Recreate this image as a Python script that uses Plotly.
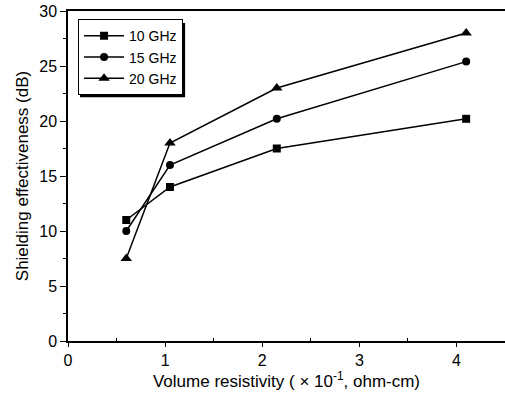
import plotly.graph_objects as go

x_vals = [0.6, 1.05, 2.15, 4.1]
se_10 = [11.0, 14.0, 17.5, 20.2]
se_15 = [10.0, 16.0, 20.2, 25.4]
se_20 = [7.5, 18.0, 23.0, 28.0]
series_names = ["10 GHz", "15 GHz", "20 GHz"]
symbols = ["square", "circle", "triangle-up"]
sizes = [8, 8, 10]

fig = go.Figure()
for name, ys, sym, sz in zip(series_names, [se_10, se_15, se_20], symbols, sizes):
    fig.add_trace(go.Scatter(x=x_vals, y=ys, mode="lines+markers", name=name,
                             line=dict(color="black", width=1.5),
                             marker=dict(symbol=sym, size=sz, color="black")))

font = "Liberation Sans, Arial, Helvetica, sans-serif"
fig.update_layout(
    width=505, height=403,
    margin=dict(l=68, r=0, t=11, b=62),
    paper_bgcolor="white", plot_bgcolor="white",
    font=dict(family=font, color="black", size=16),
    showlegend=True,
    legend=dict(x=0.023, y=0.975, xanchor="left", yanchor="top",
                bgcolor="white", bordercolor="black", borderwidth=1,
                font=dict(size=14, family=font), tracegroupgap=0,
                itemwidth=40),
    shapes=[dict(type="rect", xref="paper", yref="paper",
                 x0=0.0275, x1=0.268, y0=0.739, y1=0.9636,
                 fillcolor="black", line=dict(width=0), layer="above")],
    xaxis=dict(range=[0, 4.5], showgrid=False, zeroline=False, automargin=False,
               showline=True, linecolor="black", linewidth=1.5, mirror=True,
               tickmode="array", tickvals=[0, 1, 2, 3, 4],
               ticks="outside", ticklen=4, tickcolor="black",
               minor=dict(tickvals=[0.5, 1.5, 2.5, 3.5], ticks="inside", ticklen=3, tickcolor="black"),
               title=dict(text="Volume resistivity ( × 10<sup>-1</sup>, ohm-cm)", font=dict(size=17), standoff=4),
               tickfont=dict(size=16)),
    yaxis=dict(range=[0, 30], showgrid=False, zeroline=False, automargin=False,
               showline=True, linecolor="black", linewidth=1.5, mirror=False,
               tickmode="array", tickvals=[0, 5, 10, 15, 20, 25, 30],
               ticks="outside", ticklen=6, tickcolor="black",
               minor=dict(tickvals=[2.5, 7.5, 12.5, 17.5, 22.5, 27.5], ticks="outside", ticklen=3, tickcolor="black"),
               title=dict(text="Shielding effectiveness (dB)", font=dict(size=17), standoff=6),
               tickfont=dict(size=16)),
)

fig.write_html("out.html", post_script="document.body.style.margin='0';",
               config={"displayModeBar": False})
